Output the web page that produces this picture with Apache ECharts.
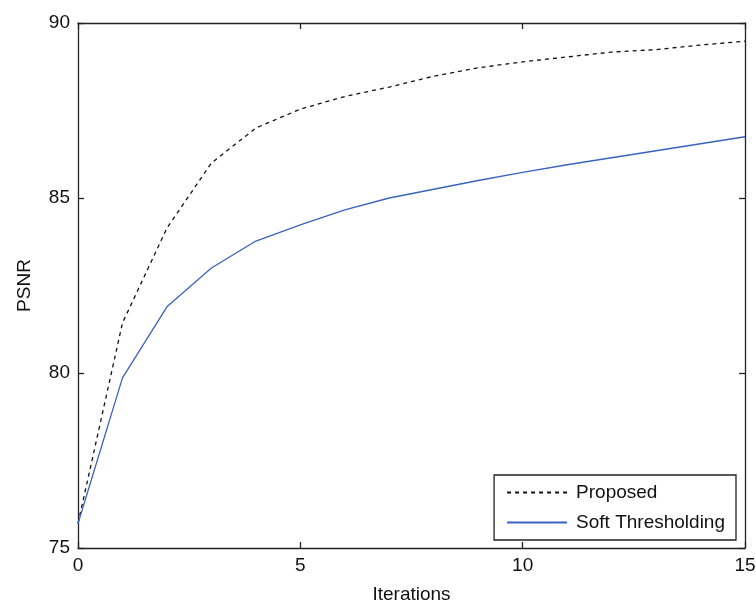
<!DOCTYPE html>
<html><head><meta charset="utf-8">
<script src="https://cdn.jsdelivr.net/npm/echarts@6/dist/echarts.min.js"></script>
<style>html,body{margin:0;padding:0;background:#fff}#c{width:756px;height:604px}</style>
</head><body><div id="c"></div>
<script>
const iterations = [0,1,2,3,4,5,6,7,8,9,10,11,12,13,14,15];
const proposed = [75.7,81.43,84.14,86.0,87.0,87.54,87.9,88.17,88.48,88.72,88.89,89.03,89.17,89.24,89.37,89.48];
const softThresholding = [75.7,79.86,81.89,83.0,83.77,84.23,84.66,85.0,85.25,85.5,85.73,85.95,86.15,86.35,86.55,86.75];
const xTicks = [0,5,10,15];
const yTicks = [75,80,85,90];
const seriesNames = ['Proposed','Soft Thresholding'];

const font = 'Arial, "Liberation Sans", sans-serif';
const fs = 19;
const chart = echarts.init(document.getElementById('c'));
const axisBase = {
  axisLine:{show:true,onZero:false,lineStyle:{color:'#222',width:1.3}},
  axisTick:{show:true,inside:true,length:6,lineStyle:{color:'#222',width:1.3}},
  splitLine:{show:false}
};
chart.setOption({
  animation:false,
  backgroundColor:'#fff',
  grid:{left:78,right:11,top:23,bottom:56,containLabel:false,outerBoundsMode:'none'},
  legend:{
    orient:'vertical', right:20, bottom:64,
    data:seriesNames,
    backgroundColor:'#fff', borderColor:'#222', borderWidth:1.3,
    padding:[7,11,7,12], itemGap:9, itemWidth:60, itemHeight:10,
    itemStyle:{opacity:0},
    textStyle:{fontFamily:font,fontSize:fs,color:'#111',lineHeight:21,padding:[0,0,0,4]}
  },
  xAxis:[
    Object.assign({type:'value',min:0,max:15,interval:5,position:'bottom',
      name:'Iterations',nameLocation:'middle',nameGap:37,
      nameTextStyle:{fontFamily:font,fontSize:fs,color:'#111'},
      axisLabel:{fontFamily:font,fontSize:fs,color:'#111',margin:8,
        formatter:v=>xTicks.includes(v)?String(v):''}},axisBase),
    Object.assign({type:'value',min:0,max:15,interval:5,position:'top',
      axisLabel:{show:false}},axisBase)
  ],
  yAxis:[
    Object.assign({type:'value',min:75,max:90,interval:5,position:'left',
      name:'PSNR',nameLocation:'middle',nameGap:44,nameRotate:90,
      nameTextStyle:{fontFamily:font,fontSize:fs,color:'#111'},
      axisLabel:{fontFamily:font,fontSize:fs,color:'#111',margin:8,
        formatter:v=>yTicks.includes(v)?String(v):''}},axisBase),
    Object.assign({type:'value',min:75,max:90,interval:5,position:'right',
      axisLabel:{show:false}},axisBase)
  ],
  series:[
    {name:seriesNames[0],type:'line',showSymbol:false,symbol:'none',
      data:iterations.map((x,i)=>[x,proposed[i]]),
      lineStyle:{color:'#111',width:1.3,type:[4,4]},itemStyle:{color:'#111'}},
    {name:seriesNames[1],type:'line',showSymbol:false,symbol:'none',
      data:iterations.map((x,i)=>[x,softThresholding[i]]),
      lineStyle:{color:'#3a63c0',width:1.3},itemStyle:{color:'#3a63c0'}}
  ]
});
</script></body></html>
